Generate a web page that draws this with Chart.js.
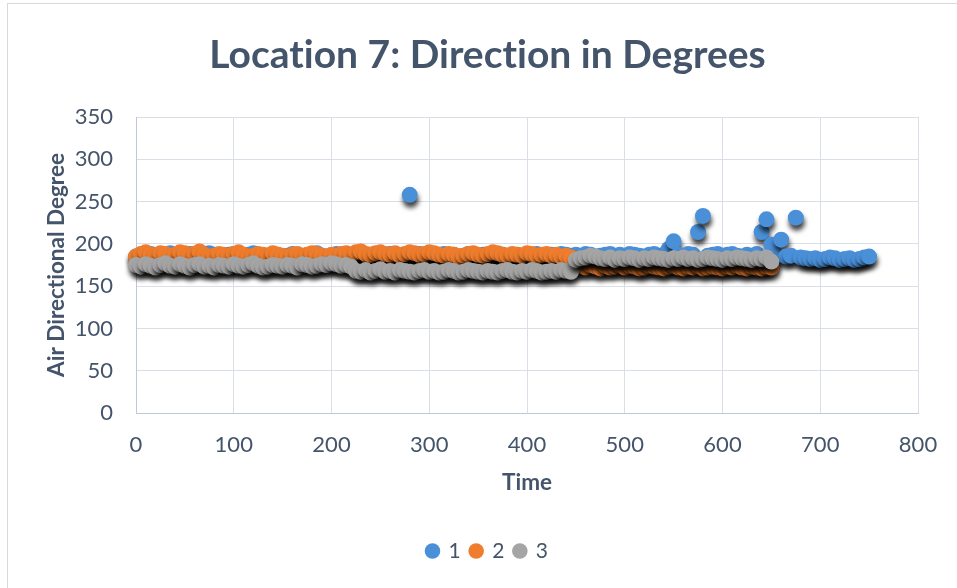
<!DOCTYPE html>
<html>
<head>
<meta charset="utf-8">
<title>Location 7: Direction in Degrees</title>
<script src="https://cdn.jsdelivr.net/npm/chart.js@4/dist/chart.umd.min.js"></script>
<style>
  html, body { margin: 0; padding: 0; background: #ffffff; }
  #frame {
    position: absolute; left: 7px; top: 3px; width: 970px; height: 600px;
    border-left: 1px solid #d9d9d9; border-top: 1px solid #d9d9d9;
  }
  #chart { position: absolute; left: 0; top: 0; }
</style>
</head>
<body>
<div id="frame"></div>
<canvas id="chart" width="957" height="588"></canvas>
<script>
// Readings are logged every 5 time units.
const SAMPLE_STEP = 5;

// Sensor 1: t = 0 .. 750
const sensor1 = [
  185,187,186,188,185,184,187,189,186,185,
  186,188,187,185,186,189,187,186,185,187,
  188,186,185,187,189,186,184,186,188,187,
  185,186,188,187,185,186,187,189,186,185,
  186,188,187,186,185,187,188,186,187,185,
  186,187,188,186,185,187,258,186,188,187,
  186,185,187,188,186,187,185,186,188,187,
  186,187,185,186,188,187,186,185,187,186,
  187,186,188,185,186,187,186,188,187,186,
  187,186,188,187,185,186,187,188,186,187,
  186,188,187,186,185,187,188,186,187,194,
  203,187,186,188,187,214,233,186,187,188,
  186,187,188,186,185,187,186,188,214,229,
  199,186,205,185,186,231,184,183,182,183,
  181,182,184,183,181,182,183,181,182,184,185
];

// Sensor 2: t = 0 .. 650
const sensor2 = [
  185,188,190,187,186,189,188,185,187,190,
  189,186,188,191,187,185,186,188,187,186,
  188,190,187,185,186,188,187,186,189,187,
  186,185,187,188,186,187,189,188,186,185,
  187,186,188,189,187,190,191,188,187,189,
  190,188,187,189,186,188,190,189,187,188,
  190,189,187,186,188,187,185,186,188,189,
  187,186,188,190,189,187,186,188,187,186,
  189,188,186,187,188,186,187,185,186,184,
  173,174,172,175,173,171,174,172,173,175,
  172,174,173,171,172,174,173,172,171,173,
  174,172,171,173,172,174,171,172,173,172,
  171,173,172,174,172,171,173,172,171,173,172
];

// Sensor 3: t = 0 .. 650
const sensor3 = [
  175,173,176,174,172,175,177,174,173,176,
  174,172,175,176,173,174,172,175,174,173,
  176,174,173,175,177,174,172,173,175,174,
  173,175,174,172,176,175,173,174,176,175,
  177,176,174,175,173,
  168,167,169,166,168,170,167,168,166,169,
  168,167,166,168,169,167,168,166,167,169,
  168,166,167,169,168,167,166,168,167,166,
  168,169,167,166,168,167,169,168,166,167,
  168,167,169,168,167,
  181,183,184,186,185,183,182,184,181,183,
  182,184,183,181,183,182,184,183,182,181,
  183,182,184,182,183,181,182,184,183,182,
  181,183,182,184,183,182,181,183,182,184,179
];

const seriesNames = ['1', '2', '3'];
const seriesColors = ['#4a90d9', '#ef7d2d', '#a5a5a5'];
const xTicks = [0, 100, 200, 300, 400, 500, 600, 700, 800];
const yTicks = [0, 50, 100, 150, 200, 250, 300, 350];

const toPoints = (values) => values.map((v, i) => ({ x: i * SAMPLE_STEP, y: v }));

const ink = '#44546a';
const gridColor = '#d9dee7';
const axisColor = '#bfc8d8';
const fontFamily = 'Lato, "Open Sans", sans-serif';

// Plain glyphs (no "ti" ligature) for all canvas text
const plainText = {
  id: 'plainText',
  beforeDraw(chart) { chart.ctx.textRendering = 'optimizeSpeed'; }
};

// Dark drop shadow under every marker
const markerShadow = {
  id: 'markerShadow',
  beforeDatasetDraw(chart) {
    const c = chart.ctx;
    c.save();
    c.shadowColor = 'rgba(0,0,0,0.75)';
    c.shadowBlur = 5;
    c.shadowOffsetX = 1;
    c.shadowOffsetY = 5;
  },
  afterDatasetDraw(chart) {
    chart.ctx.restore();
  }
};

const datasets = [sensor1, sensor2, sensor3].map((vals, k) => ({
  label: seriesNames[k],
  data: toPoints(vals),
  backgroundColor: seriesColors[k],
  borderColor: seriesColors[k],
  pointRadius: 8,
  pointHoverRadius: 8,
  pointBorderWidth: 0,
  borderWidth: 0,
  clip: false,
  order: 3 - k
}));

new Chart(document.getElementById('chart'), {
  type: 'scatter',
  data: { datasets },
  plugins: [plainText, markerShadow],
  options: {
    responsive: false,
    animation: false,
    devicePixelRatio: 1,
    layout: { padding: { left: 18, right: 0, top: 0, bottom: 16.5 } },
    plugins: {
      title: {
        display: true,
        text: 'Location 7: Direction in Degrees',
        color: ink,
        font: { family: fontFamily, size: 39, weight: 'bold', lineHeight: 1.2 },
        padding: { top: 31.6, bottom: 38.6 }
      },
      legend: {
        position: 'bottom',
        labels: {
          usePointStyle: true,
          pointStyle: 'circle',
          boxWidth: 11,
          boxHeight: 11,
          padding: 10,
          color: ink,
          font: { family: fontFamily, size: 21 },
          sort: (a, b) => a.datasetIndex - b.datasetIndex
        }
      },
      tooltip: { enabled: false }
    },
    scales: {
      x: {
        type: 'linear',
        min: 0, max: 800,
        afterBuildTicks: (s) => { s.ticks = xTicks.map(v => ({ value: v })); },
        afterFit: (s) => { s.height = 117.5; },
        grid: { color: gridColor, lineWidth: 1, drawTicks: false },
        border: { color: axisColor, width: 1 },
        ticks: { color: ink, padding: 19, font: { family: fontFamily, size: 22 } },
        title: {
          display: true, text: 'Time', color: ink,
          font: { family: fontFamily, size: 22.5, weight: 'bold', lineHeight: 1.2 },
          padding: { top: 0, bottom: 34 }
        }
      },
      y: {
        type: 'linear',
        min: 0, max: 350,
        afterBuildTicks: (s) => { s.ticks = yTicks.map(v => ({ value: v })); },
        afterFit: (s) => { s.width = 118; },
        grid: { color: gridColor, lineWidth: 1, drawTicks: false },
        border: { color: axisColor, width: 1 },
        ticks: { color: ink, padding: 23, font: { family: fontFamily, size: 22 } },
        title: {
          display: true, text: 'Air Directional Degree', color: ink,
          font: { family: fontFamily, size: 22.5, weight: 'bold', lineHeight: 1.2 },
          padding: { top: 25.5, bottom: 0 }
        }
      },
      yRight: {
        type: 'linear',
        position: 'right',
        min: 0, max: 1,
        afterFit: (s) => { s.width = 39; },
        grid: { display: false, drawTicks: false },
        border: { display: false },
        ticks: { display: false }
      }
    }
  }
});
</script>
</body>
</html>
